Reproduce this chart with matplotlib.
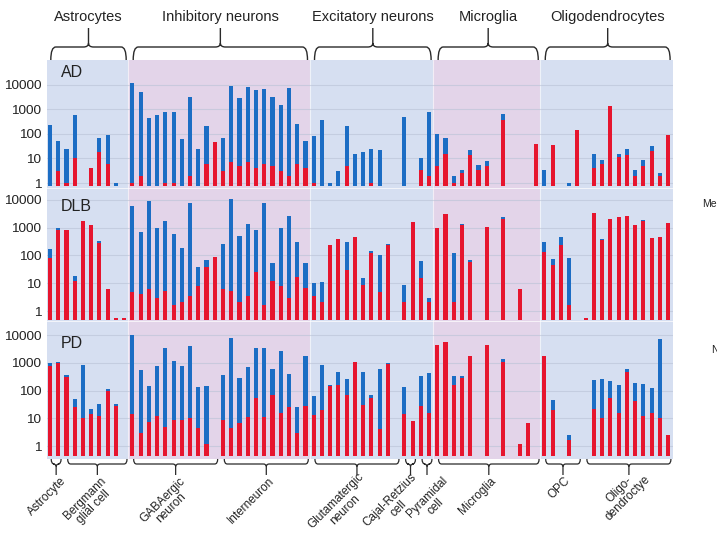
import numpy as np
import matplotlib
matplotlib.use("Agg")
import matplotlib.pyplot as plt
from matplotlib.path import Path
from matplotlib.patches import PathPatch

plt.rcParams['font.family'] = ['Liberation Sans', 'DejaVu Sans']

# ---------------------------------------------------------------- data
groups = ["Astrocytes", "Inhibitory neurons", "Excitatory neurons",
          "Microglia", "Oligodendrocytes"]
group_sizes = [10, 22, 15, 13, 16]

cell_types = ["Astrocyte", "Bergmann\nglial cell", "GABAergic\nneuron",
              "Interneuron", "Glutamatergic\nneuron", "Cajal-Retzius\ncell",
              "Pyramidal\ncell", "Microglia", "OPC", "Oligo-\ndendroctye"]
cell_counts = [2, 8, 11, 11, 11, 2, 2, 13, 5, 11]

panels = ["AD", "DLB", "PD"]
y_ticks = [1, 10, 100, 1000, 10000]
y_tick_labels = ["1", "10", "100", "1000", "10000"]

# full bar height (blue top) and red lower part, 0 = no bar
ad_total = [230, 50, 25, 600, 0, 4, 70, 85, 1, 0,
            12000, 5000, 430, 600, 800, 750, 60, 3000, 25, 200, 45, 70,
            8500, 2800, 8000, 6000, 6500, 3000, 1500, 7500, 250, 50,
            80, 350, 1, 3, 200, 15, 18, 25, 22, 0, 0, 500, 0, 10, 750,
            100, 70, 2, 3.5, 22, 5.5, 8, 0, 650, 0, 0, 0, 40,
            3.5, 35, 0, 1, 140, 0, 15, 9, 1400, 15, 25, 3.5, 9, 32, 2.5, 90]
ad_red = [0, 3, 1, 10, 0, 4, 18, 6, 0, 0,
          1, 2, 0, 0, 1, 1, 0, 2, 0, 6, 45, 3,
          7, 5, 7, 4, 6, 5, 3, 2, 6, 4,
          1, 0, 0, 0, 5, 0, 0, 1, 0, 0, 0, 0, 0, 3.3, 2,
          5, 15, 1, 2.5, 14, 3.3, 5, 0, 350, 0, 0, 0, 40,
          0, 35, 0, 0, 140, 0, 4, 6, 1400, 11, 14, 2, 5, 20, 2, 90]

dlb_total = [170, 950, 800, 18, 1700, 1300, 330, 6, 0.55, 0.55,
             6000, 700, 9000, 1000, 1700, 600, 180, 8000, 38, 70, 90, 260,
             11000, 500, 1400, 850, 7500, 55, 1000, 2600, 300, 55,
             10, 11, 230, 400, 300, 450, 15, 140, 100, 250, 0, 9, 1600, 65, 3,
             950, 3100, 120, 1350, 70, 0, 1100, 0, 2350, 0, 6, 0, 0,
             300, 75, 450, 80, 0, 0.55, 3500, 400, 2100, 2350, 2600, 1300,
             1950, 430, 450, 1500]
dlb_red = [80, 800, 800, 12, 1700, 1300, 280, 6, 0.55, 0.55,
           5, 4, 6, 3, 5.4, 1.6, 2.2, 3.5, 8, 40, 90, 6,
           5.4, 2.2, 3.5, 25, 1.6, 12, 8, 3, 17, 7,
           3.5, 2.2, 230, 400, 30, 450, 9, 125, 5, 240, 0, 2.2, 1600, 16, 2.2,
           950, 3100, 2.2, 1300, 60, 0, 1100, 0, 2050, 0, 6, 0, 0,
           130, 45, 230, 1.6, 0, 0.55, 3500, 350, 2100, 2350, 2600, 1300,
           1800, 430, 450, 1500]

pd_total = [950, 1100, 370, 50, 800, 22, 32, 110, 33, 0,
            10000, 550, 140, 750, 3500, 1200, 750, 4000, 130, 150, 0, 350,
            8000, 280, 700, 3500, 3300, 600, 2700, 400, 25, 1700,
            65, 800, 160, 450, 250, 1100, 450, 70, 600, 1000, 0, 130, 8, 320, 420,
            4500, 5500, 340, 330, 1800, 0, 4500, 0, 1400, 0, 1.2, 7, 0,
            1800, 45, 0, 2.5, 0, 0, 230, 250, 225, 160, 600, 190, 170, 120,
            7000, 2.5]
pd_red = [750, 950, 300, 25, 10, 14, 12, 95, 27, 0,
          14, 3, 7.5, 12, 5, 9, 9, 10.5, 4.6, 1.15, 0, 8.6,
          4.6, 6.5, 11.4, 55, 11, 70, 15, 25, 3, 28,
          13, 20, 145, 160, 70, 1100, 30, 55, 4, 900, 0, 14, 8, 28, 15,
          4500, 5500, 160, 290, 1800, 0, 4500, 0, 1100, 0, 1.2, 7, 0,
          1700, 20, 0, 1.7, 0, 0, 22, 10, 55, 15, 480, 42, 12, 15,
          10, 2.5]

series = {"AD": (ad_total, ad_red),
          "DLB": (dlb_total, dlb_red),
          "PD": (pd_total, pd_red)}

# ---------------------------------------------------------------- style
W, H, DPI = 717, 534, 100
BLUE = "#1c6dc4"
RED = "#e6152e"
BG = ["#d6dff1", "#e3d4e9"]
GRID = "#b9c2d6"
INK = "#222222"

LEFT, RIGHT = 47, 673
XLIM = (-0.36, 75.6)
# panel extents in pixels (top, bottom) and log10 limits / bar base
panel_box = {"AD": (60, 188, -0.203, 4.995, 0.79),
             "DLB": (188, 321, -0.360, 4.432, 0.49),
             "PD": (321, 459, -0.468, 4.505, 0.42)}
label_pos = {"AD": 72.5, "DLB": 206.5, "PD": 343.5}
# nudges (pixels) for the rotated cell-type labels
label_nudge = [(4, 0), (3, 0), (3, 0), (2, 0), (1, -4), (0, -4), (14, 0),
               (1, 0), (1, 0), (7, -10)]

fig = plt.figure(figsize=(W / DPI, H / DPI), dpi=DPI)


def px_axes(left, top, right, bottom):
    return fig.add_axes([left / W, 1 - bottom / H,
                         (right - left) / W, (bottom - top) / H])


n = sum(group_sizes)
x = np.arange(n)
bounds = np.cumsum([0] + group_sizes) - 0.5

for name in panels:
    top, bottom, lo, hi, base = panel_box[name]
    ax = px_axes(LEFT, top, RIGHT, bottom)
    ax.set_yscale("log")
    ax.set_xlim(*XLIM)
    ax.set_ylim(10 ** lo, 10 ** hi)
    for i in range(len(group_sizes)):
        a = XLIM[0] if i == 0 else bounds[i]
        b = XLIM[1] if i == len(group_sizes) - 1 else bounds[i + 1]
        ax.axvspan(a, b, color=BG[i % 2], lw=0, zorder=0)
        if i > 0:
            ax.axvline(bounds[i], color="white", lw=0.8, alpha=0.6, zorder=0.5)
    for t in y_ticks:
        ax.axhline(t, color=GRID, lw=0.8, alpha=0.6, zorder=0.6)
    if name != "AD":
        ax.axhline(10 ** hi, color="white", lw=1.4, alpha=0.7, zorder=3)

    total = np.array(series[name][0], dtype=float)
    red = np.array(series[name][1], dtype=float)
    has_red = red > 0
    ax.bar(x[has_red], red[has_red] - base, bottom=base, width=0.5,
           color=RED, lw=0, zorder=2)
    red_top = np.where(has_red, red, base)
    has_blue = total > red_top
    ax.bar(x[has_blue], total[has_blue] - red_top[has_blue],
           bottom=red_top[has_blue], width=0.5, color=BLUE, lw=0, zorder=2)

    ax.set_xticks([])
    ax.set_yticks(y_ticks)
    ax.set_yticklabels(y_tick_labels)
    ax.yaxis.set_minor_locator(matplotlib.ticker.NullLocator())
    ax.tick_params(axis="y", length=0, pad=4.0, labelsize=9.7, labelcolor=INK)
    for s in ax.spines.values():
        s.set_visible(False)
    fig.text(61 / W, 1 - label_pos[name] / H, name, fontsize=11.5,
             color=INK, ha="left", va="center")

# ---------------------------------------------------------------- braces
ov = fig.add_axes([LEFT / W, 0, (RIGHT - LEFT) / W, 1])
ov.set_xlim(*XLIM)
ov.set_ylim(H, 0)
ov.axis("off")
ov.patch.set_alpha(0)
ppi = (RIGHT - LEFT) / (XLIM[1] - XLIM[0])   # pixels per bar slot


def brace(a, b, y_end, y_mid, y_tip, r_px, lw):
    c = (a + b) / 2
    r = r_px / ppi
    sgn = 1 if y_end > y_mid else -1
    verts = [(a, y_end), (a, y_mid), (a + r, y_mid), (c - r, y_mid),
             (c, y_mid), (c, y_mid - sgn * r_px * 0.8), (c, y_tip),
             (c, y_mid - sgn * r_px * 0.8), (c, y_mid), (c + r, y_mid),
             (b - r, y_mid), (b, y_mid), (b, y_end)]
    codes = [Path.MOVETO, Path.CURVE3, Path.CURVE3, Path.LINETO,
             Path.CURVE3, Path.CURVE3, Path.LINETO,
             Path.MOVETO, Path.CURVE3, Path.CURVE3, Path.LINETO,
             Path.CURVE3, Path.CURVE3]
    ov.add_patch(PathPatch(Path(verts, codes), fc="none", ec="#2a2a2a",
                           lw=lw, capstyle="butt"))
    return c


start = np.cumsum([0] + group_sizes)
for i, g in enumerate(groups):
    a = start[i] + 0.1
    b = start[i + 1] - 1 + 0.25
    c = brace(a, b, 60, 47, 28, 5, 1.0)
    ov.text(c, 17.5, g, fontsize=10.5, color=INK, ha="center", va="center")

cstart = np.cumsum([0] + cell_counts)
for i, lab in enumerate(cell_types):
    a = cstart[i] + 0.15
    b = cstart[i + 1] - 1 + 0.35
    c = brace(a, b, 459, 464, 475, 3, 0.9)
    dx, dy = label_nudge[i]
    ov.text(c + dx / ppi, 475 + dy, lab, fontsize=8.5, color=INK,
            rotation=45, rotation_mode="anchor", ha="right", va="top",
            multialignment="center", linespacing=1.0)

fig.text(702 / W, 1 - 204 / H, "Me", fontsize=7.5, color=INK,
         ha="left", va="center")
fig.text(711 / W, 1 - 350 / H, "N", fontsize=7.5, color=INK,
         ha="left", va="center")

fig.savefig("out.png", dpi=DPI, facecolor="white")
